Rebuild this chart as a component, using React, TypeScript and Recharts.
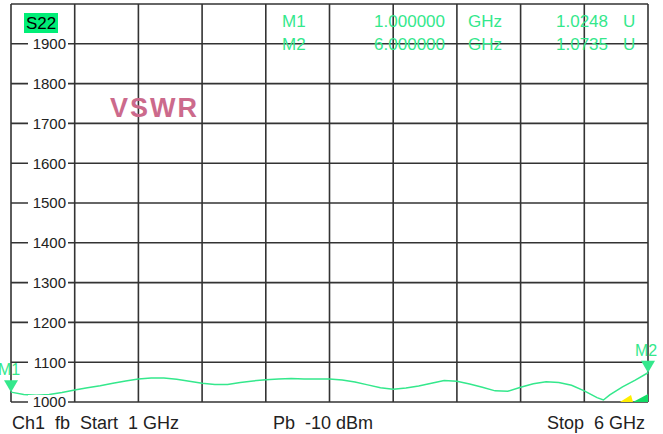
import React from "react";
import {
  LineChart,
  Line,
  XAxis,
  YAxis,
  CartesianGrid,
  ReferenceDot,
} from "recharts";

// S22 sweep, 1..6 GHz, VSWR in milli-units
const FREQ_GHZ = [
  1.0, 1.1, 1.2, 1.3, 1.4, 1.5, 1.6, 1.7, 1.8, 1.9, 2.0, 2.1, 2.2, 2.3, 2.4, 2.5,
  2.6, 2.7, 2.8, 2.9, 3.0, 3.1, 3.2, 3.3, 3.4, 3.5, 3.6, 3.7, 3.8, 3.9, 4.0, 4.1,
  4.2, 4.3, 4.4, 4.5, 4.6, 4.7, 4.8, 4.9, 5.0, 5.1, 5.2, 5.3, 5.4, 5.5, 5.6, 5.65,
  5.7, 5.8, 5.9, 6.0,
];
const VSWR_MU = [
  1024.8, 1019, 1017, 1019, 1024, 1030, 1036, 1041, 1047, 1053, 1058, 1060, 1060,
  1057, 1052, 1047, 1044, 1044, 1049, 1053, 1056, 1058, 1059, 1058, 1058, 1058,
  1055, 1050, 1043, 1036, 1032, 1035, 1040, 1047, 1054, 1052, 1045, 1037, 1028,
  1027, 1037, 1046, 1051, 1049, 1042, 1028, 1011, 1005, 1018, 1038, 1055, 1073.5,
];
const X_TICKS = [1, 1.5, 2, 2.5, 3, 3.5, 4, 4.5, 5, 5.5, 6];
const Y_TICKS = [1000, 1100, 1200, 1300, 1400, 1500, 1600, 1700, 1800, 1900, 2000];
const MARKERS = [
  { name: "M1", freq: 1.0, value: 1024.8, freqText: "1.000000", valText: "1.0248" },
  { name: "M2", freq: 6.0, value: 1073.5, freqText: "6.000000", valText: "1.0735" },
];

const data = FREQ_GHZ.map((f, i) => ({ f, v: VSWR_MU[i] }));

const GREEN = "#34e88c";
const GRID = "#333333";
const FONT = "'Liberation Sans', Arial, sans-serif";

function YTick(props: any) {
  const { y, payload } = props;
  if (!payload || payload.value === 2000) return <g />;
  return (
    <g>
      <rect x={28} y={y - 7} width={40} height={14} fill="#fff" />
      <text
        x={66}
        y={y}
        dy="0.36em"
        textAnchor="end"
        fontSize={15}
        fontFamily={FONT}
        fill="#222"
      >
        {payload.value}
      </text>
    </g>
  );
}

const EmptyTick = () => <g />;

function markerShape(name: string, labelDx: number) {
  return (p: any) => {
    const { cx, cy } = p;
    return (
      <g>
        <polygon
          points={`${cx - 7},${cy - 12} ${cx + 7},${cy - 12} ${cx},${cy}`}
          fill={GREEN}
        />
        <text
          x={cx + labelDx}
          y={cy - 17}
          textAnchor="middle"
          fontSize={16}
          fontFamily={FONT}
          fill={GREEN}
        >
          {name}
        </text>
      </g>
    );
  };
}

function cornerShape(p: any) {
  const { cx, cy } = p;
  return (
    <g>
      <polygon
        points={`${cx - 28},${cy} ${cx - 17},${cy - 7} ${cx - 15},${cy}`}
        fill="#ffee00"
      />
      <polygon
        points={`${cx - 15},${cy} ${cx},${cy - 8} ${cx},${cy}`}
        fill="#11dd66"
      />
    </g>
  );
}

export default function App() {
  return (
    <div style={{ position: "absolute", left: 0, top: 0, width: 663, height: 434, background: "#fff" }}>
      <LineChart
        width={663}
        height={434}
        data={data}
        margin={{ top: 4, right: 15, bottom: 32, left: 10 }}
      >
        <CartesianGrid stroke={GRID} strokeWidth={1.6} />
        <XAxis
          dataKey="f"
          type="number"
          domain={[1, 6]}
          ticks={X_TICKS}
          interval={0}
          height={0}
          tick={EmptyTick}
          axisLine={false}
          tickLine={false}
        />
        <YAxis
          type="number"
          domain={[1000, 2000]}
          ticks={Y_TICKS}
          width={1}
          axisLine={false}
          tickLine={false}
          tick={(p: any) => <YTick {...p} />}
          interval={0}
        />
        <Line
          dataKey="v"
          type="linear"
          stroke={GREEN}
          strokeWidth={1.5}
          dot={false}
          isAnimationActive={false}
        />
        <ReferenceDot x={6} y={1000} r={0} ifOverflow="visible" shape={cornerShape} />
        <ReferenceDot
          x={MARKERS[0].freq}
          y={MARKERS[0].value}
          ifOverflow="visible"
          shape={markerShape(MARKERS[0].name, -2)}
        />
        <ReferenceDot
          x={MARKERS[1].freq}
          y={MARKERS[1].value}
          ifOverflow="visible"
          shape={markerShape(MARKERS[1].name, -2)}
        />
      </LineChart>
      <svg
        width={663}
        height={434}
        style={{ position: "absolute", left: 0, top: 0, pointerEvents: "none" }}
        fontFamily={FONT}
      >
        <rect x={24} y={13} width={34} height={20} fill="#00ee77" />
        <text x={41} y={29} textAnchor="middle" fontSize={17} fill="#000">
          S22
        </text>
        <text
          x={110}
          y={117}
          fontSize={27}
          fontWeight="bold"
          letterSpacing={2}
          fill="#cc6a8c"
        >
          VSWR
        </text>
        {MARKERS.map((m, i) => (
          <g key={m.name} fontSize={17} fill={GREEN}>
            <text x={282} y={27 + i * 23}>{m.name}</text>
            <text x={445} y={27 + i * 23} textAnchor="end">{m.freqText}</text>
            <text x={468} y={27 + i * 23}>GHz</text>
            <text x={608} y={27 + i * 23} textAnchor="end">{m.valText}</text>
            <text x={623} y={27 + i * 23}>U</text>
          </g>
        ))}
        <g fontSize={18} fill="#222">
          <text x={12} y={429} xmlSpace="preserve">{"Ch1  fb  Start  1 GHz"}</text>
          <text x={273} y={429} xmlSpace="preserve">{"Pb  -10 dBm"}</text>
          <text x={645} y={429} textAnchor="end" xmlSpace="preserve">{"Stop  6 GHz"}</text>
        </g>
      </svg>
    </div>
  );
}
